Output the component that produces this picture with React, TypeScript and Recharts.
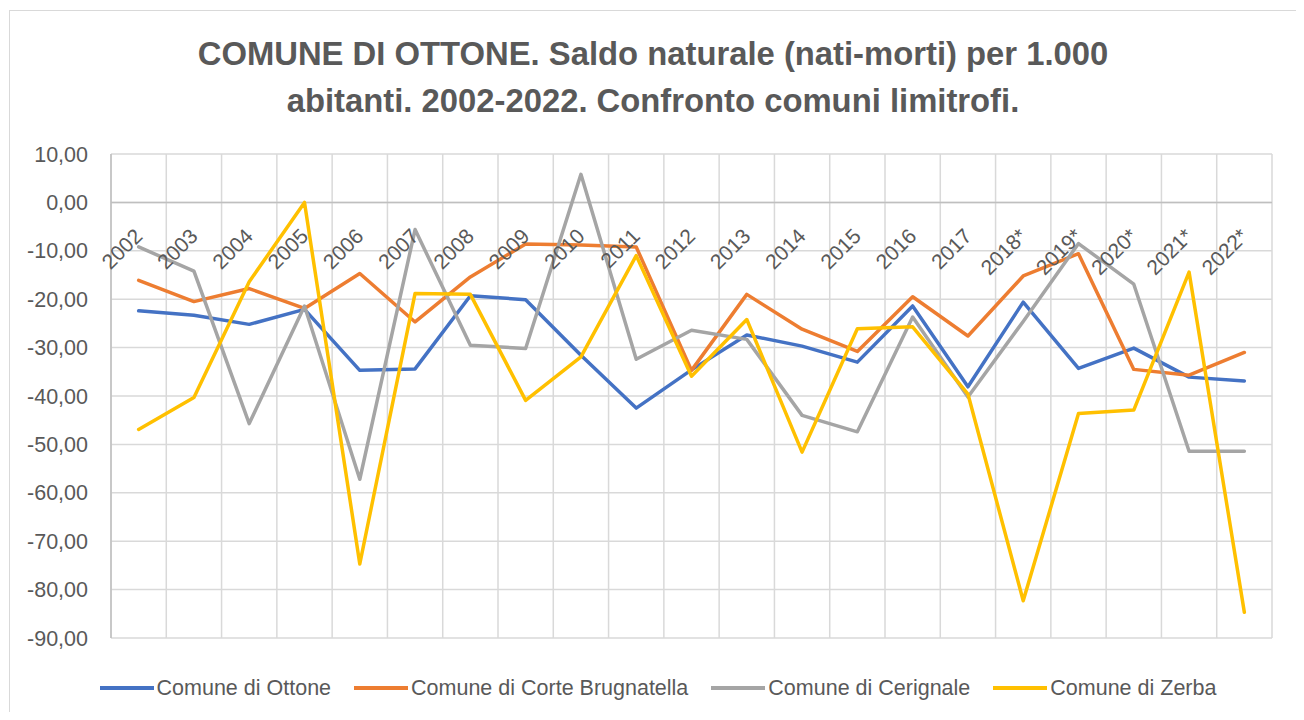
import React from 'react';
import { LineChart, Line, XAxis, YAxis, CartesianGrid, ReferenceLine, Legend, LabelList } from 'recharts';

const years = ['2002','2003','2004','2005','2006','2007','2008','2009','2010','2011','2012','2013','2014','2015','2016','2017','2018*','2019*','2020*','2021*','2022*'];
const ottone = [-22.4,-23.3,-25.2,-22.1,-34.7,-34.4,-19.3,-20.1,-31.6,-42.5,-34.6,-27.4,-29.7,-33.0,-21.4,-38.1,-20.6,-34.3,-30.1,-36.1,-36.9];
const corte = [-16.1,-20.5,-17.8,-21.9,-14.7,-24.7,-15.4,-8.6,-8.8,-9.2,-34.7,-19.0,-26.2,-30.8,-19.5,-27.6,-15.2,-10.6,-34.5,-35.7,-31.0];
const cerignale = [-9.2,-14.2,-45.7,-21.4,-57.2,-5.6,-29.5,-30.2,5.8,-32.4,-26.4,-28.3,-44.0,-47.4,-23.7,-40.2,-24.6,-8.5,-16.9,-51.4,-51.4];
const zerba = [-46.9,-40.3,-16.4,0.0,-74.7,-18.8,-19.0,-40.9,-31.9,-11.0,-35.9,-24.2,-51.6,-26.1,-25.7,-39.6,-82.3,-43.6,-42.9,-14.4,-84.7];
const yTicks = [-90,-80,-70,-60,-50,-40,-30,-20,-10,0,10];

const seriesNames = ['Comune di Ottone','Comune di Corte Brugnatella','Comune di Cerignale','Comune di Zerba'];
const seriesKeys = ['ottone','corte','cerignale','zerba'];
const seriesColors = ['#4472C4','#ED7D31','#A5A5A5','#FFC000'];

const data = years.map((y, i) => ({
  year: y,
  ottone: ottone[i],
  corte: corte[i],
  cerignale: cerignale[i],
  zerba: zerba[i],
}));

const FONT = "'Liberation Sans', Arial, sans-serif";
const TEXT = '#595959';

const fmt = (v: number) => v.toFixed(2).replace('.', ',');

// vertical gridlines at the category boundaries (Excel style), from the plot area the library computed
const bandEdges = (props: any) => {
  try {
    const off = props && props.offset;
    const left = off && typeof off.left === 'number' ? off.left : props.xAxis.x;
    const width = off && typeof off.width === 'number' ? off.width : props.xAxis.width;
    const n = years.length;
    return Array.from({ length: n + 1 }, (_, i) => left + (i * width) / n);
  } catch (e) {
    return [];
  }
};

const CatLabel = (props: any) => {
  const { x, y, value } = props;
  return (
    <text
      transform={`translate(${x + 5},${y + 35}) rotate(-45)`}
      textAnchor="end"
      fill={TEXT}
      fontSize={21}
      fontFamily={FONT}
    >
      {value}
    </text>
  );
};

const LegendContent = () => (
  <div style={{ height: 74, boxSizing: 'border-box', paddingTop: 38, paddingLeft: 4, display: 'flex', justifyContent: 'center', fontFamily: FONT }}>
    {seriesNames.map((n, i) => (
      <div key={n} style={{ display: 'flex', alignItems: 'center', marginRight: i < 3 ? 23 : 0, height: 24 }}>
        <div style={{ width: 54, height: 4, background: seriesColors[i], marginRight: 3 }} />
        <span style={{ fontSize: 21.5, color: TEXT, lineHeight: '24px', whiteSpace: 'nowrap' }}>{n}</span>
      </div>
    ))}
  </div>
);

export default function App() {
  return (
    <div style={{ position: 'relative', width: 1296, height: 704, overflow: 'hidden', background: '#fff' }}>
      <div style={{ position: 'absolute', left: 1, top: 2, width: 1288, height: 760, border: '1.5px solid #d9d9d9', boxSizing: 'border-box' }} />
      <div style={{ position: 'absolute', left: 1, top: 23, width: 1288, textAlign: 'center', fontFamily: FONT, fontWeight: 'bold', fontSize: 32.8, lineHeight: '46.7px', color: TEXT }}>
        COMUNE DI OTTONE. Saldo naturale (nati-morti) per 1.000<br />abitanti. 2002-2022. Confronto comuni limitrofi.
      </div>
      <div style={{ position: 'absolute', left: 0, top: 0 }}>
        <LineChart width={1296} height={704} data={data} margin={{ top: 146, right: 32, bottom: 0, left: 23 }}>
          <XAxis xAxisId="cat" dataKey="year" type="category" scale="band" hide />
          <YAxis
            domain={[-90, 10]}
            ticks={yTicks}
            width={80}
            tickFormatter={fmt}
            tickLine={false}
            tickSize={0}
            tickMargin={23}
            axisLine={{ stroke: '#bfbfbf', strokeWidth: 1.5 }}
            tick={{ fill: TEXT, fontSize: 21.5, fontFamily: FONT }}
            interval={0}
          />
          <CartesianGrid xAxisId="cat" stroke="#d9d9d9" strokeWidth={1.5} verticalCoordinatesGenerator={bandEdges} />
          <ReferenceLine xAxisId="cat" y={0} stroke="#bfbfbf" strokeWidth={1.5} />
          <Line xAxisId="cat" dataKey={() => 0} stroke="none" dot={false} activeDot={false} legendType="none" isAnimationActive={false}>
            <LabelList dataKey="year" content={CatLabel} />
          </Line>
          {seriesKeys.map((k, i) => (
            <Line
              key={k}
              xAxisId="cat"
              dataKey={k}
              name={seriesNames[i]}
              stroke={seriesColors[i]}
              strokeWidth={3.5}
              strokeLinejoin="round"
              strokeLinecap="round"
              dot={false}
              activeDot={false}
              isAnimationActive={false}
            />
          ))}
          <Legend verticalAlign="bottom" content={LegendContent} wrapperStyle={{ left: 0, width: 1296 }} />
        </LineChart>
      </div>
    </div>
  );
}
